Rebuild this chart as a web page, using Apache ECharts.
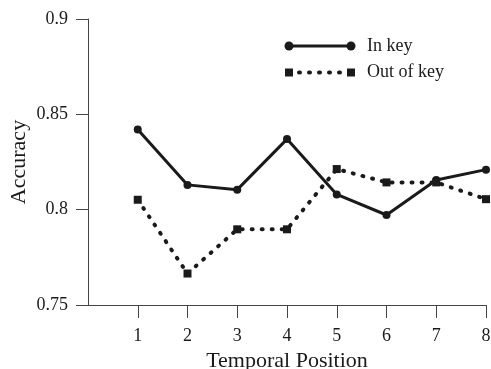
<!DOCTYPE html>
<html>
<head>
<meta charset="utf-8">
<script src="https://cdn.jsdelivr.net/npm/echarts@6/dist/echarts.min.js"></script>
<style>
  html, body { margin: 0; padding: 0; background: #fff; }
  #chart { width: 491px; height: 369px; }
</style>
</head>
<body>
<div id="chart"></div>
<script>
// temporal positions 1..8
var positions = [1, 2, 3, 4, 5, 6, 7, 8]
var inKey = [0.842, 0.813, 0.8105, 0.837, 0.808, 0.7972, 0.8156, 0.821]
var outOfKey = [0.8052, 0.7665, 0.7897, 0.7897, 0.8213, 0.8143, 0.8143, 0.8055]
var yTicks = [0.75, 0.8, 0.85, 0.9]

var serif = "Liberation Serif"
var ink = "#1a1a1a"
var axisColor = "#444"

function pairs(vals) {
  return positions.map(function (p, i) { return [p, vals[i]] })
}

var chart = echarts.init(document.getElementById("chart"))

var option = {
  animation: false,
  backgroundColor: "#fff",
  grid: { left: 88, right: 5, top: 19, bottom: 64, containLabel: false, outerBoundsMode: "none" },
  xAxis: {
    type: "value",
    min: 0,
    max: 8,
    interval: 1,
    name: "Temporal Position",
    nameLocation: "middle",
    nameGap: 45,
    nameMoveOverlap: false,
    nameTextStyle: { fontFamily: serif, fontSize: 22, color: ink },
    splitLine: { show: false },
    axisLine: { show: true, lineStyle: { color: axisColor, width: 1 } },
    axisTick: { show: true, length: 13, customValues: positions, lineStyle: { color: axisColor } },
    axisLabel: { customValues: positions, margin: 22, fontFamily: serif, fontSize: 18, color: ink }
  },
  yAxis: {
    type: "value",
    min: 0.75,
    max: 0.9,
    name: "Accuracy",
    nameLocation: "middle",
    nameGap: 58,
    nameMoveOverlap: false,
    nameTextStyle: { fontFamily: serif, fontSize: 22, color: ink },
    splitLine: { show: false },
    axisLine: { show: true, lineStyle: { color: axisColor, width: 1 } },
    axisTick: { show: true, length: 12, customValues: yTicks, lineStyle: { color: axisColor } },
    axisLabel: {
      customValues: yTicks,
      margin: 20,
      fontFamily: serif,
      fontSize: 18,
      color: ink,
      formatter: function (v) { return String(+v.toFixed(2)) }
    }
  },
  series: [
    {
      name: "In key",
      type: "line",
      data: pairs(inKey),
      symbol: "circle",
      symbolSize: 8,
      itemStyle: { color: ink },
      lineStyle: { color: ink, width: 3 }
    },
    {
      name: "Out of key",
      type: "line",
      data: pairs(outOfKey),
      symbol: "rect",
      symbolSize: 8,
      itemStyle: { color: ink },
      lineStyle: { color: ink, width: 4, type: [1, 9], cap: "round" }
    }
  ],
  // legend drawn by hand: marker at both ends of the sample line
  graphic: [
    { type: "line", shape: { x1: 289, y1: 46, x2: 351, y2: 46 }, style: { stroke: ink, lineWidth: 3 } },
    { type: "circle", shape: { cx: 289, cy: 46, r: 4.5 }, style: { fill: ink } },
    { type: "circle", shape: { cx: 351, cy: 46, r: 4.5 }, style: { fill: ink } },
    { type: "text", x: 367, y: 46, style: { text: "In key", fontFamily: serif, fontSize: 18, fill: ink, verticalAlign: "middle" } },
    { type: "line", shape: { x1: 299, y1: 72.5, x2: 343, y2: 72.5 }, style: { stroke: ink, lineWidth: 4, lineDash: [1, 9], lineCap: "round" } },
    { type: "rect", shape: { x: 285, y: 68.5, width: 8, height: 8 }, style: { fill: ink } },
    { type: "rect", shape: { x: 347, y: 68.5, width: 8, height: 8 }, style: { fill: ink } },
    { type: "text", x: 367, y: 72.5, style: { text: "Out of key", fontFamily: serif, fontSize: 18, fill: ink, verticalAlign: "middle" } }
  ]
}

chart.setOption(option)
</script>
</body>
</html>
